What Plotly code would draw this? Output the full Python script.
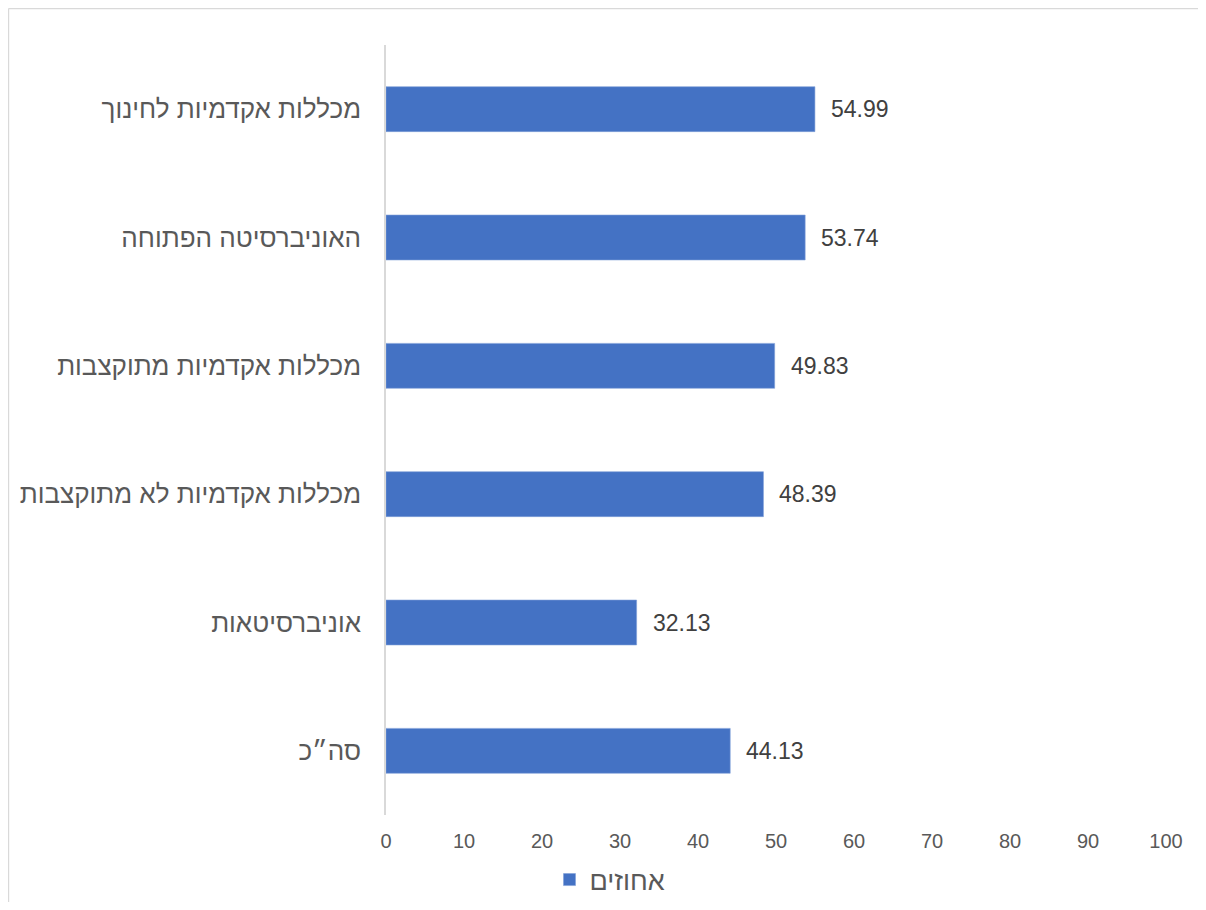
import plotly.graph_objects as go

categories = ["סה״כ", "אוניברסיטאות", "מכללות אקדמיות לא מתוקצבות",
              "מכללות אקדמיות מתוקצבות", "האוניברסיטה הפתוחה", "מכללות אקדמיות לחינוך"]
values = [44.13, 32.13, 48.39, 49.83, 53.74, 54.99]
series_name = "אחוזים"
x_ticks = [0, 10, 20, 30, 40, 50, 60, 70, 80, 90, 100]

# page body has an 8px margin, so the figure is placed at (8, 8)
OFF = 8
W, H = 1190, 894
L, R, T, B = 386 - OFF, 32, 45 - OFF, 87
pw, ph = W - L - R, H - T - B

FONT = "Liberation Sans"

fig = go.Figure()
fig.add_trace(go.Bar(
    y=categories, x=values, orientation="h", name=series_name,
    marker=dict(color="#4472C4", line=dict(color="#7F9FD8", width=0.6)),
    showlegend=True,
))

for c, v in zip(categories, values):
    fig.add_annotation(x=v, y=c, text=f"{v:.2f}", showarrow=False,
                       xanchor="left", xshift=14,
                       font=dict(family=FONT, size=23, color="#404040"))

def px_x(px):  # reference pixel -> paper x
    return (px - OFF - L) / pw

def px_y(py):  # reference pixel -> paper y
    return (H - B - (py - OFF)) / ph

# outer chart border (only top and left edges are visible in the reference)
fig.add_shape(type="line", xref="paper", yref="paper",
              x0=px_x(8.5), x1=px_x(1206), y0=px_y(8.6), y1=px_y(8.6),
              line=dict(color="#D9D9D9", width=1.2), layer="below")
fig.add_shape(type="line", xref="paper", yref="paper",
              x0=px_x(8.6), x1=px_x(8.6), y0=px_y(8.5), y1=px_y(910),
              line=dict(color="#D9D9D9", width=1.2), layer="below")

fig.update_layout(
    width=W, height=H,
    margin=dict(l=L, r=R, t=T, b=B),
    paper_bgcolor="white", plot_bgcolor="white",
    bargap=0.65,
    font=dict(family=FONT, color="#595959"),
    xaxis=dict(range=[0, 100], tickvals=x_ticks, showgrid=False, zeroline=False,
               showline=False, ticks="", tickfont=dict(size=20, color="#595959"),
               ticklabelstandoff=12, fixedrange=True, automargin=False),
    yaxis=dict(showgrid=False, zeroline=False, showline=True, linecolor="#D9D9D9",
               linewidth=1.5, ticks="", tickfont=dict(size=26, color="#595959"),
               ticklabelstandoff=18, categoryorder="array", categoryarray=categories,
               automargin=False),
    legend=dict(orientation="h", xref="paper", x=px_x(610),
                yref="container", y=1 - (880 - OFF) / H,
                xanchor="center", yanchor="middle",
                font=dict(size=27, color="#595959"), itemwidth=30),
)

fig.write_html("out.html")
